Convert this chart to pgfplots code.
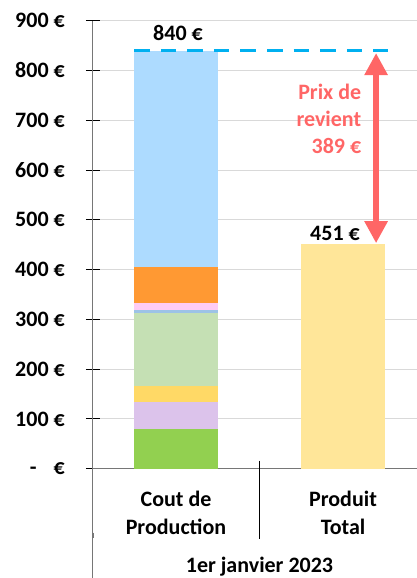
\documentclass[border=0pt]{standalone}
\usepackage{fontspec}
\setmainfont{Carlito}
\usepackage{pgfplots}
\pgfplotsset{compat=1.18}
\usetikzlibrary{arrows.meta}
\definecolor{cgreen}{HTML}{92D050}
\definecolor{clav}{HTML}{DCC3EB}
\definecolor{cyel}{HTML}{FFD966}
\definecolor{clgreen}{HTML}{C5E0B4}
\definecolor{cbg}{HTML}{9DC3E6}
\definecolor{cpink}{HTML}{FFCCF5}
\definecolor{corange}{HTML}{FF9933}
\definecolor{clblue}{HTML}{ADDBFF}
\definecolor{cprod}{HTML}{FFE699}
\definecolor{cdash}{HTML}{00B0F0}
\definecolor{cred}{HTML}{FF6666}
\definecolor{axisgrey}{HTML}{767676}
\definecolor{gridgrey}{HTML}{D9D9D9}
\newcommand{\bigfont}{\fontsize{22}{27.5}\selectfont\bfseries}
\begin{document}
\begin{tikzpicture}
\begin{axis}[
  name=main,
  scale only axis, width=324pt, height=448pt,
  xmin=-0.497, xmax=1.443, ymin=0, ymax=900,
  enlargelimits=false,
  ybar stacked, bar width=84pt,
  axis lines=left,
  axis line style={-, draw=axisgrey, line width=1pt},
  ytick={0,100,...,900},
  yticklabels={{-\hspace{17pt}€},100 €,200 €,300 €,400 €,500 €,600 €,700 €,800 €,900 €},
  yticklabel style={anchor=east, inner sep=0pt, xshift=-21pt},
  xtick={0,1},
  xticklabels={{Cout de\\Production},{Produit\\Total}},
  xticklabel style={align=center, anchor=north, inner sep=0pt, yshift=-15.3pt},
  tick label style={font=\bigfont},
  x tick style={draw=none},
  ymajorgrids, grid style={gridgrey, line width=1pt},
  tick align=center, major tick length=14pt,
  y tick style={black, line width=1pt},
  clip=false,
]
\addplot[fill=cgreen, draw=none] coordinates {(0,80) (1,0)};
\addplot[fill=clav, draw=none] coordinates {(0,55) (1,0)};
\addplot[fill=cyel, draw=none] coordinates {(0,32) (1,0)};
\addplot[fill=clgreen, draw=none] coordinates {(0,146) (1,0)};
\addplot[fill=cbg, draw=none] coordinates {(0,6) (1,0)};
\addplot[fill=cpink, draw=none] coordinates {(0,14) (1,0)};
\addplot[fill=corange, draw=none] coordinates {(0,72) (1,0)};
\addplot[fill=clblue, draw=none] coordinates {(0,435) (1,0)};
\addplot[fill=cprod, draw=none] coordinates {(0,0) (1,451)};
\coordinate (bl) at (rel axis cs:0,0);
\coordinate (tr) at (rel axis cs:1,1);
\draw[black, line width=1pt] ([yshift=8pt]axis cs:0.5,0) -- ++(0pt,-78pt);
\draw[axisgrey, line width=1pt] (rel axis cs:0,0) -- ++(0pt,-115pt);
\draw[axisgrey, line width=2pt] ([yshift=-64pt]rel axis cs:0,0) -- ++(0pt,-5pt);
\node[anchor=base, font=\bigfont, inner sep=0pt] at ([yshift=-104pt]axis cs:0.5,0) {1er janvier 2023};
\node[anchor=base, font=\bigfont, inner sep=0pt] at ([yshift=10pt]axis cs:0.012,840) {840 €};
\node[anchor=base, font=\bigfont, inner sep=0pt] at ([yshift=4pt]axis cs:0.952,451) {451 €};
\node[anchor=east, align=right, font=\fontsize{22}{27}\selectfont\bfseries, text=cred, inner sep=0pt] at (axis cs:1.11,702) {Prix de\\revient\\389 €};
\end{axis}
\begin{axis}[
  at={(main.south west)}, anchor=south west,
  scale only axis, width=324pt, height=448pt,
  xmin=-0.497, xmax=1.443, ymin=0, ymax=900,
  enlargelimits=false, hide axis, clip=false,
]
\addplot[cdash, line width=3.3pt, dash pattern=on 15.6pt off 11pt] coordinates {(-0.251,840) (1.27,840)};
\addplot[cred, line width=5.7pt, {Triangle[length=22pt,width=22pt]}-{Triangle[length=22pt,width=22pt]}] coordinates {(1.198,453) (1.198,835)};
\end{axis}
\pgfresetboundingbox
\path[use as bounding box] ([shift={(-93pt,-109.3pt)}]bl) rectangle ([shift={(0pt,20.7pt)}]tr);
\end{tikzpicture}
\end{document}
